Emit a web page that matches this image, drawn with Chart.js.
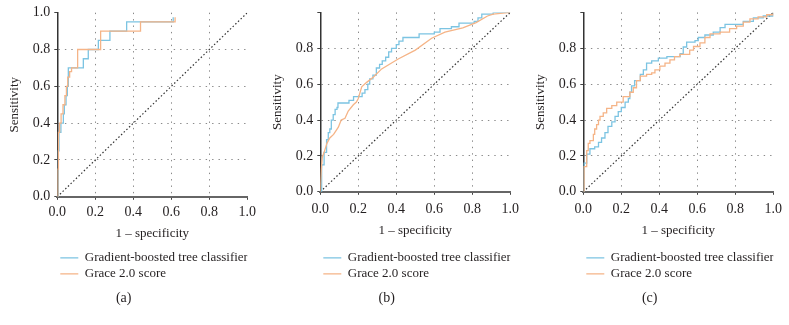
<!DOCTYPE html>
<html>
<head>
<meta charset="utf-8">
<script src="https://cdn.jsdelivr.net/npm/chart.js@4.4.0/dist/chart.umd.min.js"></script>
<style>
  body { margin: 0; background: #fff; }
  #wrap { display: flex; width: 789px; height: 325px; }
  canvas { display: block; }
</style>
</head>
<body>
<div id="wrap">
  <canvas id="chart-a" width="263" height="325"></canvas>
  <canvas id="chart-b" width="263" height="325"></canvas>
  <canvas id="chart-c" width="263" height="325"></canvas>
</div>
<script>
// Axis ticks and labels
const tickValues = [0, 0.2, 0.4, 0.6, 0.8, 1.0];
const seriesNames = ['Gradient-boosted tree classifier', 'Grace 2.0 score'];
const panelCaptions = ['(a)', '(b)', '(c)'];
const xTitle = '1 \u2013 specificity';
const yTitle = 'Sensitivity';

// Panel (a) ROC points
const aGbtFpr = [0, 0.005, 0.009, 0.019, 0.032, 0.037, 0.046, 0.053, 0.058, 0.137, 0.163, 0.216, 0.277, 0.365, 0.61];
const aGbtTpr = [0, 0.25, 0.35, 0.40, 0.45, 0.50, 0.55, 0.60, 0.70, 0.75, 0.80, 0.85, 0.90, 0.95, 0.975];
const aGraceFpr = [0, 0.003, 0.006, 0.012, 0.02, 0.03, 0.04, 0.048, 0.055, 0.065, 0.075, 0.107, 0.228, 0.438, 0.62];
const aGraceTpr = [0, 0.15, 0.35, 0.40, 0.45, 0.50, 0.55, 0.60, 0.65, 0.68, 0.70, 0.80, 0.90, 0.95, 0.975];

// Panel (b)
const bGbtFpr = [0, 0.007, 0.02, 0.033, 0.042, 0.05, 0.058, 0.068, 0.078, 0.088, 0.093, 0.151, 0.175, 0.22, 0.235, 0.25, 0.26, 0.277, 0.295, 0.312, 0.326, 0.344, 0.36, 0.375, 0.4, 0.414, 0.435, 0.52, 0.6, 0.63, 0.69, 0.73, 0.81, 0.83, 0.85, 0.91, 1.0];
const bGbtTpr = [0, 0.15, 0.22, 0.29, 0.33, 0.35, 0.40, 0.43, 0.46, 0.47, 0.495, 0.51, 0.53, 0.55, 0.57, 0.60, 0.63, 0.65, 0.69, 0.71, 0.73, 0.75, 0.78, 0.80, 0.82, 0.84, 0.86, 0.88, 0.89, 0.91, 0.92, 0.94, 0.95, 0.97, 0.99, 1.0, 1.0];
const bGraceFpr = [0, 0.005, 0.01, 0.02, 0.035, 0.05, 0.07, 0.095, 0.11, 0.13, 0.147, 0.174, 0.19, 0.2, 0.218, 0.244, 0.28, 0.323, 0.41, 0.5, 0.586, 0.656, 0.75, 0.82, 0.88, 0.91, 1.0];
const bGraceTpr = [0, 0.12, 0.19, 0.22, 0.27, 0.30, 0.32, 0.36, 0.40, 0.41, 0.45, 0.485, 0.50, 0.52, 0.585, 0.61, 0.64, 0.685, 0.74, 0.79, 0.856, 0.89, 0.914, 0.943, 0.98, 0.99, 1.0];

// Panel (c)
const cGbtFpr = [0, 0.004, 0.018, 0.035, 0.06, 0.08, 0.096, 0.114, 0.13, 0.15, 0.167, 0.184, 0.2, 0.22, 0.237, 0.245, 0.254, 0.27, 0.3, 0.316, 0.333, 0.36, 0.395, 0.44, 0.51, 0.526, 0.544, 0.588, 0.605, 0.64, 0.684, 0.72, 0.746, 0.842, 0.895, 0.947, 1.0];
const cGbtTpr = [0, 0.16, 0.21, 0.24, 0.25, 0.275, 0.30, 0.33, 0.365, 0.39, 0.42, 0.447, 0.47, 0.50, 0.52, 0.555, 0.59, 0.62, 0.654, 0.68, 0.717, 0.73, 0.745, 0.753, 0.77, 0.807, 0.834, 0.843, 0.86, 0.874, 0.89, 0.915, 0.933, 0.95, 0.97, 0.98, 1.0];
const cGraceFpr = [0, 0.004, 0.018, 0.026, 0.035, 0.053, 0.06, 0.07, 0.08, 0.088, 0.105, 0.123, 0.15, 0.176, 0.21, 0.245, 0.263, 0.28, 0.3, 0.333, 0.36, 0.377, 0.403, 0.43, 0.456, 0.48, 0.508, 0.56, 0.58, 0.614, 0.64, 0.667, 0.72, 0.77, 0.807, 0.842, 0.877, 0.92, 0.965, 1.0];
const cGraceTpr = [0, 0.14, 0.23, 0.27, 0.285, 0.32, 0.35, 0.375, 0.40, 0.42, 0.44, 0.465, 0.48, 0.50, 0.53, 0.555, 0.58, 0.62, 0.645, 0.654, 0.663, 0.68, 0.70, 0.717, 0.735, 0.753, 0.766, 0.79, 0.81, 0.83, 0.86, 0.88, 0.89, 0.91, 0.924, 0.946, 0.964, 0.975, 0.987, 1.0];

// Chance line
const diagX = [0, 1];
const diagY = [0, 1];

const BLUE = '#7cc4e2';
const ORANGE = '#f5b487';
const TEXT = '#231f20';

Chart.defaults.font.family = "'Liberation Serif', 'DejaVu Serif', serif";
Chart.defaults.color = TEXT;

function toPoints(xs, ys) {
    return xs.map((x, i) => ({ x: x, y: ys[i] }));
}

function makePanel(id, caption, gbt, grace, opts) {
    // dotted grid only inside the plot, not on the axes or the far edges
    const gridColor = (ctx) => (ctx.tick && ctx.tick.value > 0.001 && ctx.tick.value < 0.999) ? '#8a8a8a' : 'rgba(0,0,0,0)';

    return new Chart(document.getElementById(id), {
        type: 'line',
        data: {
            datasets: [
                {
                    label: seriesNames[0],
                    data: gbt,
                    borderColor: BLUE,
                    backgroundColor: BLUE,
                    borderWidth: 1.3,
                    pointRadius: 0,
                    stepped: opts.gbtStep,
                    order: 2
                },
                {
                    label: seriesNames[1],
                    data: grace,
                    borderColor: ORANGE,
                    backgroundColor: ORANGE,
                    borderWidth: 1.3,
                    pointRadius: 0,
                    stepped: opts.graceStep,
                    order: 1
                },
                {
                    label: '',
                    data: toPoints(diagX, diagY),
                    borderColor: '#333',
                    borderWidth: 1.2,
                    borderDash: [1.5, 2.2],
                    pointRadius: 0,
                    order: 3
                }
            ]
        },
        options: {
            responsive: false,
            animation: false,
            devicePixelRatio: 1,
            layout: { padding: { top: opts.top, right: 15.7, left: 0, bottom: 0 } },
            plugins: {
                tooltip: { enabled: false },
                legend: {
                    position: 'bottom',
                    align: 'start',
                    fullSize: false,
                    labels: {
                        filter: (item) => item.text !== '',
                        sort: (a, b) => a.datasetIndex - b.datasetIndex,
                        font: { size: 13 },
                        boxWidth: 18,
                        boxHeight: 0,
                        padding: 3,
                        color: TEXT
                    }
                },
                title: {
                    display: true,
                    position: 'bottom',
                    text: caption,
                    font: { size: 14, weight: 'normal' },
                    padding: { top: 0, bottom: 17.9 },
                    color: TEXT
                }
            },
            scales: {
                x: {
                    type: 'linear',
                    min: 0,
                    max: 1,
                    afterBuildTicks: (scale) => { scale.ticks = tickValues.map(v => ({ value: v })); },
                    afterFit: (scale) => { scale.height = opts.xHeight; },
                    ticks: {
                        font: { size: 14 },
                        padding: opts.xTickPad,
                        maxRotation: 0,
                        callback: (v) => v.toFixed(1)
                    },
                    grid: { color: gridColor, lineWidth: 1, tickLength: 3, tickColor: '#444' },
                    border: { color: '#666', width: 2, dash: [1.4, 5] },
                    title: {
                        display: true,
                        text: xTitle,
                        font: { size: 13 },
                        padding: { top: 0, bottom: opts.xTitlePad },
                        color: TEXT
                    }
                },
                y: {
                    type: 'linear',
                    min: 0,
                    max: 1,
                    afterBuildTicks: (scale) => { scale.ticks = tickValues.map(v => ({ value: v })); },
                    afterFit: (scale) => { scale.width = 57.3; },
                    ticks: {
                        font: { size: 14 },
                        padding: 4,
                        callback: (v) => (v > 0.999 && !opts.showTop) ? '' : v.toFixed(1)
                    },
                    grid: { color: gridColor, lineWidth: 1, tickLength: 3, tickColor: '#444' },
                    border: { color: '#333', width: 1.5, dash: [1.4, 5] },
                    title: {
                        display: true,
                        text: yTitle,
                        font: { size: 13 },
                        padding: { top: 7.2, bottom: 0 },
                        color: TEXT
                    }
                }
            }
        }
    });
}

makePanel('chart-a', panelCaptions[0], toPoints(aGbtFpr, aGbtTpr), toPoints(aGraceFpr, aGraceTpr),
    { top: 12.7, xHeight: 51.5, xTickPad: 4, xTitlePad: 7.2, showTop: true, gbtStep: 'before', graceStep: 'before' });
makePanel('chart-b', panelCaptions[1], toPoints(bGbtFpr, bGbtTpr), toPoints(bGraceFpr, bGraceTpr),
    { top: 8.5, xHeight: 56.5, xTickPad: 6, xTitlePad: 9.7, showTop: false, gbtStep: 'before', graceStep: false });
makePanel('chart-c', panelCaptions[2], toPoints(cGbtFpr, cGbtTpr), toPoints(cGraceFpr, cGraceTpr),
    { top: 8.5, xHeight: 56.5, xTickPad: 6, xTitlePad: 9.7, showTop: false, gbtStep: 'before', graceStep: 'before' });
</script>
</body>
</html>
